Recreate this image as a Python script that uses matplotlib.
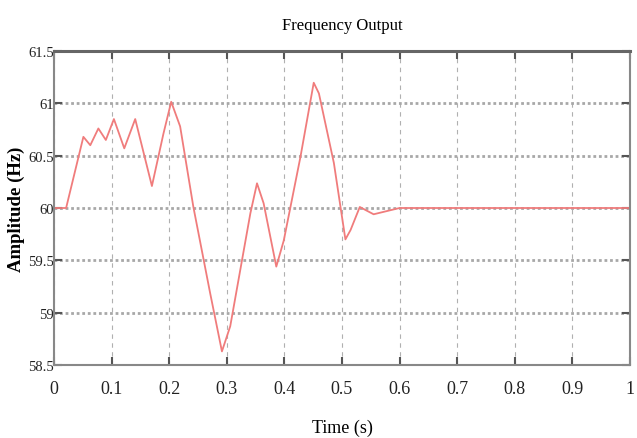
import numpy as np
import matplotlib.pyplot as plt

# values
t = [0.0, 0.021, 0.051, 0.063, 0.077, 0.090, 0.104, 0.122, 0.141, 0.170,
     0.190, 0.2035, 0.219, 0.242, 0.271, 0.2916, 0.306, 0.341, 0.3525,
     0.364, 0.386, 0.399, 0.428, 0.451, 0.460, 0.486, 0.506, 0.515,
     0.531, 0.555, 0.600, 1.0]
freq = [60.0, 60.0, 60.68, 60.60, 60.76, 60.65, 60.85, 60.57, 60.85, 60.21,
        60.71, 61.015, 60.78, 60.01, 59.19, 58.63, 58.87, 59.95, 60.236,
        60.045, 59.44, 59.69, 60.49, 61.197, 61.095, 60.43, 59.70, 59.79,
        60.01, 59.94, 60.0, 60.0]

xticks = [0, 0.1, 0.2, 0.3, 0.4, 0.5, 0.6, 0.7, 0.8, 0.9, 1]
xtick_labels = ["0", "0.1", "0.2", "0.3", "0.4", "0.5", "0.6", "0.7", "0.8", "0.9", "1"]
yticks = [58.5, 59, 59.5, 60, 60.5, 61, 61.5]
ytick_labels = ["58.5", "59", "59.5", "60", "60.5", "61", "61.5"]

plt.rcParams["font.family"] = ["Liberation Serif", "DejaVu Serif"]

fig = plt.figure(figsize=(6.37, 4.39), dpi=100)
ax = fig.add_axes([0.0848, 0.1663, 0.904, 0.7152])

ax.plot(t, freq, color="#f07c7c", lw=1.3)

ax.set_xlim(0, 1)
ax.set_ylim(58.5, 61.5)
ax.set_xticks(xticks)
ax.set_xticklabels(xtick_labels)
ax.set_yticks(yticks)
ax.set_yticklabels(ytick_labels)

# grid: dashed verticals, dotted horizontals
ax.xaxis.grid(True, ls=(0, (4, 4)), color="#b0b0b0", lw=0.8)
ax.yaxis.grid(True, ls=(0, (1, 1)), color="#a8a8a8", lw=2.0)

ax.tick_params(axis="both", direction="in", length=6, width=1.5, color="#555555",
               labelcolor="#222222")
ax.tick_params(axis="x", pad=11, top=True, labelsize=13)
ax.tick_params(axis="y", pad=0, right=True, labelsize=10.5)

for s in ["left", "right", "bottom"]:
    ax.spines[s].set_color("#888888")
    ax.spines[s].set_linewidth(1.5)
ax.spines["top"].set_color("#666666")
ax.spines["top"].set_linewidth(2.2)

ax.set_title("Frequency Output", fontsize=12, pad=16)
ax.set_xlabel("Time (s)", fontsize=13)
ax.xaxis.set_label_coords(0.5, -0.17)
ax.set_ylabel("Amplitude (Hz)", fontsize=13.5, fontweight="bold")
ax.yaxis.set_label_coords(-0.05, 0.5)

fig.savefig("out.png", dpi=100)
